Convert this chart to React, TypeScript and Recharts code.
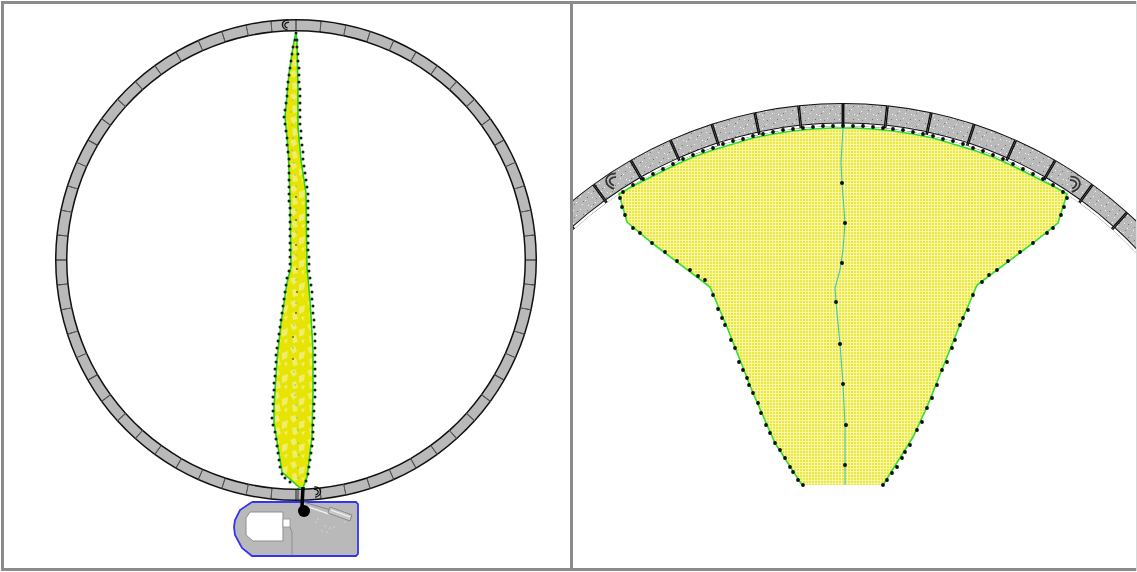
import React from "react";
import { Pie, PieChart, Scatter, ScatterChart, XAxis, YAxis } from "recharts";

type Pair = [number, number];

const ringSegments = [
  6, 6, 6, 6, 6, 6, 6, 6, 6, 6, 6, 6, 6, 6, 6, 6, 6, 6, 6, 6, 6, 6, 6, 6, 6, 6, 6, 6, 6, 6,
  6, 6, 6, 6, 6, 6, 6, 6, 6, 6, 6, 6, 6, 6, 6, 6, 6, 6, 6, 6, 6, 6, 6, 6, 6, 6, 6, 6, 6, 6,
];

const leafOutline: Pair[] = [
  [296, 32], [293, 47], [289, 73], [286, 107], [285, 117], [288, 147], [289, 170], [290, 197], [291, 267],
  [287, 283], [281, 323], [277, 360], [274, 407], [274, 423], [278, 447], [282, 472], [300, 488], [303, 488],
  [307, 477], [312, 437], [313, 393], [313, 350], [310, 300], [307, 267], [306, 193], [301, 160], [298, 127],
  [298, 90], [297, 43], [296, 32],
];
const leafDots: Pair[] = [
  [296, 33], [295, 40], [293, 47], [292, 54], [291, 61], [290, 68], [289, 75], [288, 82], [287, 89], [287, 96],
  [286, 103], [285, 110], [284, 117], [285, 124], [286, 131], [287, 138], [287, 145], [288, 152], [289, 159],
  [289, 166], [289, 173], [289, 180], [289, 187], [289, 194], [289, 201], [290, 208], [290, 215], [290, 222],
  [290, 229], [290, 236], [290, 243], [290, 250], [290, 257], [290, 264], [289, 271], [287, 278], [286, 285],
  [285, 292], [284, 299], [283, 306], [282, 313], [281, 320], [280, 327], [279, 334], [278, 341], [277, 348],
  [276, 355], [276, 362], [275, 369], [275, 376], [274, 383], [274, 390], [273, 397], [273, 404], [273, 411],
  [272, 418], [273, 425], [275, 432], [276, 439], [277, 446], [278, 453], [279, 460], [280, 467], [282, 474],
  [285, 478], [290, 482],
  [297, 40], [297, 47], [298, 54], [298, 61], [299, 68], [299, 75], [299, 82], [300, 89], [300, 96], [300, 103],
  [300, 110], [300, 117], [300, 124], [301, 131], [301, 138], [302, 145], [303, 152], [303, 159], [304, 166],
  [305, 173], [306, 180], [307, 187], [308, 194], [308, 201], [308, 208], [308, 215], [308, 222], [308, 229],
  [308, 236], [308, 243], [308, 250], [309, 257], [309, 264], [309, 271], [310, 278], [311, 285], [312, 292],
  [312, 299], [313, 306], [313, 313], [314, 320], [314, 327], [315, 334], [315, 341], [315, 348], [315, 355],
  [315, 362], [315, 369], [315, 376], [315, 383], [315, 390], [315, 397], [314, 404], [314, 411], [314, 418],
  [313, 425], [313, 432], [313, 439], [312, 446], [311, 453], [310, 460], [309, 467], [308, 474], [306, 481],
];
const leafSpine: Pair[] = [
  [293, 100], [291, 112], [292, 125], [293, 138], [292, 150], [294, 163], [295, 175], [296, 186], [296, 197],
  [296, 210], [296, 232], [296, 255], [296, 280], [296, 303], [294, 325], [293, 348], [294, 372], [295, 385],
  [295, 395], [296, 405], [297, 418], [298, 430], [298, 443], [299, 455], [298, 468], [298, 478],
];
const leafSpineDark: Pair[] = [[296, 197], [296, 220], [296, 245], [297, 269], [297, 292], [296, 313], [293, 337], [293, 359]];
const leafStem: Pair[] = [[303, 487], [302, 507]];
const leafStemThin: Pair[] = [[298, 488], [298, 502]];
const pivotDot: Pair[] = [[304, 511]];

const baseOutline: Pair[] = [
  [252, 502], [356, 502], [358, 504], [358, 554], [356, 556], [252, 556], [242, 548], [235, 535], [234, 527],
  [235, 520], [240, 510], [252, 502],
];
const baseWindow: Pair[] = [[250, 512], [283, 512], [283, 541], [253, 541], [246, 535], [246, 518], [250, 512]];
const baseDoor: Pair[] = [[283, 519], [290, 519], [290, 527], [283, 527], [283, 519]];
const baseWall: Pair[] = [[290, 527], [292, 532], [292, 555]];
const baseArmUpper: Pair[] = [[303, 502], [331, 510]];
const baseArmLower: Pair[] = [[303, 505], [329, 514]];
const baseHead: Pair[] = [[330, 507], [352, 515], [350, 521], [328, 513], [330, 507]];
const baseHeadLines: Pair[] = [[331, 510], [350, 517]];
const baseSpecks: Pair[] = [[316, 522], [318, 519], [325, 526], [322, 531], [330, 528], [327, 532], [334, 527], [345, 522]];

const leftHooks: Pair[] = [[287, 25]];
const leftHooksFlipped: Pair[] = [[316, 492]];
const rightHooks: Pair[] = [[613, 181]];
const rightHooksFlipped: Pair[] = [[1073, 184]];

const fanFill: Pair[] = [
  [619, 194], [633, 186], [653, 176], [673, 166], [693, 157], [713, 150], [733, 144], [753, 138], [773, 134],
  [793, 131], [813, 129], [833, 128], [853, 128], [873, 129], [893, 131], [913, 134], [933, 138], [953, 144],
  [973, 150], [993, 157], [1013, 166], [1033, 176], [1053, 186], [1067, 194], [1058, 223], [1033, 243], [977, 285],
  [957, 332], [927, 407], [913, 437], [883, 485], [802, 485], [775, 443], [753, 393], [727, 327], [710, 287],
  [652, 243], [627, 222], [619, 194],
];
const fanEdge: Pair[] = [
  [802, 485], [775, 443], [753, 393], [727, 327], [710, 287], [652, 243], [627, 222], [619, 194], [633, 186],
  [653, 176], [673, 166], [693, 157], [713, 150], [733, 144], [753, 138], [773, 134], [793, 131], [813, 129],
  [833, 128], [853, 128], [873, 129], [893, 131], [913, 134], [933, 138], [953, 144], [973, 150], [993, 157],
  [1013, 166], [1033, 176], [1053, 186], [1067, 194], [1058, 223], [1033, 243], [977, 285], [957, 332], [927, 407],
  [913, 437], [883, 485],
];
const fanDots: Pair[] = [
  [620, 198], [622, 207], [625, 215], [633, 228], [640, 233], [652, 243], [665, 252], [677, 261], [690, 270],
  [698, 276], [705, 280], [713, 295], [718, 309], [722, 318], [725, 325], [731, 340], [735, 348], [739, 362],
  [743, 370], [747, 378], [749, 385], [753, 393], [758, 403], [761, 413], [766, 425], [770, 433], [775, 443],
  [780, 450], [785, 458], [790, 467], [793, 472], [798, 480], [803, 485],
  [623, 192], [633, 185], [643, 179], [653, 174], [663, 169], [673, 164], [683, 159], [693, 155], [703, 151],
  [713, 148], [723, 144], [733, 141], [743, 139], [753, 136], [763, 134], [773, 132], [783, 130], [793, 129],
  [803, 128], [813, 127], [823, 126], [833, 126], [843, 126], [853, 126], [863, 126], [873, 127], [883, 128],
  [893, 129], [903, 130], [913, 132], [923, 134], [933, 136], [943, 139], [953, 141], [963, 144], [973, 148],
  [983, 151], [993, 155], [1003, 159], [1013, 164], [1023, 169], [1033, 174], [1043, 179], [1053, 185], [1063, 192],
  [1067, 198], [1064, 207], [1061, 215], [1053, 228], [1047, 233], [1033, 243], [1020, 252], [1008, 261], [997, 270],
  [989, 275], [982, 282], [973, 295], [968, 310], [963, 318], [960, 325], [955, 340], [952, 348], [947, 362],
  [942, 370], [937, 385], [932, 398], [927, 408], [922, 422], [917, 430], [910, 445], [905, 452], [902, 458],
  [897, 467], [892, 473], [887, 480], [883, 485],
];
const fanSpine: Pair[] = [
  [843, 128], [841, 162], [842, 183], [845, 223], [843, 250], [840, 270], [835, 288], [836, 302], [840, 344],
  [843, 384], [845, 425], [845, 465], [845, 485],
];
const fanSpineDots: Pair[] = [[842, 183], [845, 223], [842, 263], [836, 302], [840, 344], [843, 384], [846, 425], [845, 465]];

const toPoints = (pairs: Pair[]) => pairs.map(([x, y]) => ({ x, y }));
const segmentData = ringSegments.map((value) => ({ value }));

const noDot = () => <g />;
const dot = (r: number, fill: string) => (props: any) => <circle cx={props.cx} cy={props.cy} r={r} fill={fill} />;
const hook = (size: number, flip: boolean, stroke: string) => (props: any) => (
  <g transform={`translate(${props.cx} ${props.cy}) rotate(${flip ? 25 : -25}) scale(${(flip ? -1 : 1) * size} ${size})`}>
    <path d="M5 -5 C0 -8 -6 -6 -6 0 C-6 3 -4 5 -2 7 M4 -2 C1 -4 -3 -3 -3 0 C-3 2 -2 3 -1 4" fill="none" stroke={stroke} strokeWidth={1.6} />
  </g>
);

const frameColor = "#8b8b8b";
const panel = (left: number, width: number): React.CSSProperties => ({ position: "absolute", left, top: 0, width, height: 572, overflow: "hidden" });

function Ring(props: { width: number; height: number; cx: number; cy: number; layers: any[]; defs?: React.ReactNode }) {
  const { width, height, cx, cy, layers, defs } = props;
  return (
    <div style={{ position: "absolute", left: 0, top: 0 }}>
      <PieChart width={width} height={height} margin={{ top: 0, right: 0, bottom: 0, left: 0 }}>
        {defs}
        {layers.map((l, i) => (
          <Pie
            key={i}
            data={segmentData}
            dataKey="value"
            cx={cx}
            cy={cy}
            outerRadius={l.outer}
            innerRadius={l.inner}
            paddingAngle={l.pad}
            startAngle={90 - l.pad / 2}
            endAngle={90 - l.pad / 2 - 360}
            fill={l.fill}
            stroke="none"
            isAnimationActive={false}
          />
        ))}
      </PieChart>
    </div>
  );
}

export default function App() {
  return (
    <div style={{ position: "absolute", left: 0, top: 0, width: 1137, height: 572, background: "#fff", overflow: "hidden" }}>
      {/* left panel: whole table */}
      <div style={panel(0, 571)}>
        <Ring
          width={571}
          height={572}
          cx={296}
          cy={260}
          layers={[
            { outer: 241, inner: 228.5, pad: 0, fill: "#111" },
            { outer: 239.5, inner: 230, pad: 0.22, fill: "#b9b9b9" },
          ]}
        />
        <div style={{ position: "absolute", left: 0, top: 0 }}>
          <ScatterChart width={571} height={572} margin={{ top: 0, right: 0, bottom: 0, left: 0 }}>
            <defs>
              <pattern id="mottle" width="17" height="23" patternUnits="userSpaceOnUse">
                <rect width="17" height="23" fill="#e6e400" />
                <path d="M1 3 L6 1 L8 6 L4 9 Z M10 8 L16 6 L15 13 L10 15 Z M3 14 L7 13 L9 20 L4 21 Z M12 18 L16 17 L14 22 Z" fill="#f0ed6c" />
              </pattern>
            </defs>
            <XAxis type="number" dataKey="x" domain={[0, 571]} hide />
            <YAxis type="number" dataKey="y" domain={[0, 572]} reversed hide />
            <Scatter data={toPoints(baseOutline)} shape={noDot} line={{ stroke: "#3535ee", strokeWidth: 1.8, fill: "#b9b9b9" }} isAnimationActive={false} />
            <Scatter data={toPoints(baseWindow)} shape={noDot} line={{ stroke: "#8f8f8f", strokeWidth: 1, fill: "#fff" }} isAnimationActive={false} />
            <Scatter data={toPoints(baseDoor)} shape={noDot} line={{ stroke: "#8f8f8f", strokeWidth: 0.8, fill: "#fff" }} isAnimationActive={false} />
            <Scatter data={toPoints(baseWall)} shape={noDot} line={{ stroke: "#8f8f8f", strokeWidth: 1 }} isAnimationActive={false} />
            <Scatter data={toPoints(baseArmUpper)} shape={noDot} line={{ stroke: "#888", strokeWidth: 1 }} isAnimationActive={false} />
            <Scatter data={toPoints(baseArmLower)} shape={noDot} line={{ stroke: "#eee", strokeWidth: 1.4 }} isAnimationActive={false} />
            <Scatter data={toPoints(baseHead)} shape={noDot} line={{ stroke: "#8a8a8a", strokeWidth: 1, fill: "#c8c8c8" }} isAnimationActive={false} />
            <Scatter data={toPoints(baseHeadLines)} shape={noDot} line={{ stroke: "#f4f4f4", strokeWidth: 1.2 }} isAnimationActive={false} />
            <Scatter data={toPoints(baseSpecks)} shape={dot(0.6, "#eee")} isAnimationActive={false} />
            <Scatter data={toPoints(leafOutline)} shape={noDot} line={{ stroke: "#1fd81f", strokeWidth: 1.6, fill: "url(#mottle)" }} isAnimationActive={false} />
            <Scatter data={toPoints(leafDots)} shape={dot(1.5, "#1c1c1c")} isAnimationActive={false} />
            <Scatter data={toPoints(leafSpine)} shape={dot(0.8, "#6fc0b0")} isAnimationActive={false} />
            <Scatter data={toPoints(leafSpineDark)} shape={dot(1, "#6a6a20")} isAnimationActive={false} />
            <Scatter data={toPoints(leafStemThin)} shape={noDot} line={{ stroke: "#333", strokeWidth: 1 }} isAnimationActive={false} />
            <Scatter data={toPoints(leafStem)} shape={noDot} line={{ stroke: "#000", strokeWidth: 3.5 }} isAnimationActive={false} />
            <Scatter data={toPoints(pivotDot)} shape={dot(6, "#000")} isAnimationActive={false} />
            <Scatter data={toPoints(leftHooks)} shape={hook(0.75, false, "#111")} isAnimationActive={false} />
            <Scatter data={toPoints(leftHooksFlipped)} shape={hook(0.75, true, "#111")} isAnimationActive={false} />
          </ScatterChart>
        </div>
      </div>

      {/* right panel: close-up of the top of the ring */}
      <div style={panel(571, 566)}>
        <Ring
          width={566}
          height={572}
          cx={272}
          cy={528}
          defs={
            <defs>
              <pattern id="speckle" width="19" height="13" patternUnits="userSpaceOnUse">
                <rect width="19" height="13" fill="#bababa" />
                <path d="M2 2h1v1h-1z M9 1h1v1h-1z M14 5h1v1h-1z M5 7h1v1h-1z M11 9h1v1h-1z M17 10h1v1h-1z M1 11h1v1h-1z" fill="#f4f4f4" />
                <path d="M6 3h1v1h-1z M16 2h1v1h-1z M12 6h1v1h-1z M3 9h1v1h-1z" fill="#777" />
              </pattern>
            </defs>
          }
          layers={[
            { outer: 425, inner: 402, pad: 0, fill: "#111" },
            { outer: 424, inner: 405.5, pad: 0.4, fill: "url(#speckle)" },
            { outer: 404.5, inner: 402, pad: 0.4, fill: "#fff" },
          ]}
        />
        <div style={{ position: "absolute", left: 0, top: 0 }}>
          <ScatterChart width={566} height={572} margin={{ top: 0, right: 0, bottom: 0, left: 0 }}>
            <defs>
              <pattern id="fanGrid" width="3" height="3" patternUnits="userSpaceOnUse">
                <rect width="3" height="3" fill="#ece83a" />
                <path d="M0 0.5H3 M0.5 0V3" stroke="#f8f6a8" strokeWidth="1" />
              </pattern>
            </defs>
            <XAxis type="number" dataKey="x" domain={[571, 1137]} hide />
            <YAxis type="number" dataKey="y" domain={[0, 572]} reversed hide />
            <Scatter data={toPoints(fanFill)} shape={noDot} line={{ stroke: "none", fill: "url(#fanGrid)" }} isAnimationActive={false} />
            <Scatter data={toPoints(fanEdge)} shape={noDot} line={{ stroke: "#2fe02f", strokeWidth: 1.6 }} isAnimationActive={false} />
            <Scatter data={toPoints(fanDots)} shape={dot(1.9, "#0c0c0c")} isAnimationActive={false} />
            <Scatter data={toPoints(fanSpine)} shape={noDot} line={{ stroke: "#3cc4c4", strokeWidth: 1.1 }} isAnimationActive={false} />
            <Scatter data={toPoints(fanSpineDots)} shape={dot(2, "#0c0c0c")} isAnimationActive={false} />
            <Scatter data={toPoints(rightHooks)} shape={hook(1.1, false, "#333")} isAnimationActive={false} />
            <Scatter data={toPoints(rightHooksFlipped)} shape={hook(1.1, true, "#333")} isAnimationActive={false} />
          </ScatterChart>
        </div>
      </div>

      {/* frame */}
      <div style={{ position: "absolute", left: 1, top: 1, width: 1136, height: 3, background: frameColor }} />
      <div style={{ position: "absolute", left: 1, top: 1, width: 3, height: 570, background: frameColor }} />
      <div style={{ position: "absolute", left: 570, top: 1, width: 3, height: 570, background: frameColor }} />
      <div style={{ position: "absolute", left: 1, top: 568, width: 1136, height: 3, background: frameColor }} />
      <div style={{ position: "absolute", left: 1136, top: 1, width: 1, height: 570, background: "#d8d8d8" }} />
    </div>
  );
}
